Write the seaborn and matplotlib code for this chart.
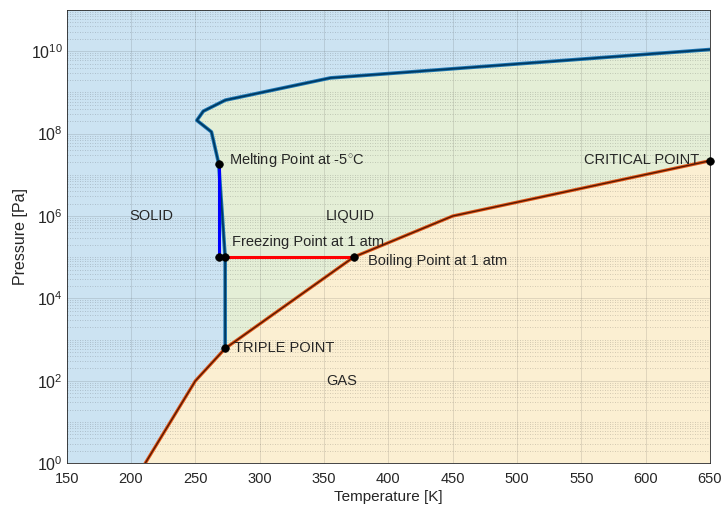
import matplotlib
matplotlib.use("Agg")
import numpy as np
import pandas as pd
import seaborn as sns
import matplotlib.pyplot as plt
from matplotlib.ticker import LogLocator, FixedLocator, NullFormatter, FuncFormatter

# ---------------- data ----------------
# sublimation curve (solid / gas)
sub_T = [211.0, 250.0, 273.16]
sub_P = [1.0, 100.0, 611.657]
# vaporisation curve (liquid / gas), triple point -> critical point
vap_T = [273.16, 373.15, 450.0, 650.0]
vap_P = [611.657, 101325.0, 1.0e6, 2.2e7]
# melting curve (solid / liquid), triple point -> high pressure ices
melt_T = [273.16, 273.15, 268.15, 262.5, 251.165, 256.164, 273.31, 355.0, 650.0]
melt_P = [611.657, 101325.0, 1.87e7, 1.1e8, 2.1e8, 3.5e8, 6.5e8, 2.25e9, 1.1e10]
# special points
melt5_T, melt5_P = 268.15, 1.87e7
atm_P = 101325.0
freeze_T = [268.15, 273.15]
boil_T = 373.15
triple_T, triple_P = 273.16, 611.657
crit_T, crit_P = 650.0, 2.2e7

x_ticks = [150, 200, 250, 300, 350, 400, 450, 500, 550, 600, 650]
y_ticks = [1e0, 1e2, 1e4, 1e6, 1e8, 1e10]

# ---------------- style ----------------
sns.set_theme(style="white")
plt.rcParams["font.family"] = ["Liberation Sans", "DejaVu Sans"]
plt.rcParams["mathtext.fontset"] = "custom"
plt.rcParams["mathtext.rm"] = "Liberation Sans"
plt.rcParams["mathtext.it"] = "Liberation Sans:italic"
plt.rcParams["mathtext.bf"] = "Liberation Sans:bold"

TXT = "#262626"
C_SOLID = "#cce3f2"
C_LIQ = "#e4eed6"
C_GAS = "#fbefd2"

fig, ax = plt.subplots(figsize=(7.26, 5.08), dpi=100)
fig.subplots_adjust(left=66.7 / 726, right=710 / 726, top=1 - 10 / 508, bottom=1 - 463.3 / 508)

ax.set_yscale("log")
ax.set_xlim(150, 650)
ax.set_ylim(1, 1e11)
ax.set_facecolor(C_SOLID)

# regions
liq_x = melt_T + [crit_T] + vap_T[::-1]
liq_y = melt_P + [crit_P] + vap_P[::-1]
ax.fill(liq_x, liq_y, color=C_LIQ, lw=0, zorder=0.2)
gas_x = sub_T + vap_T[1:] + [crit_T, sub_T[0]]
gas_y = sub_P + vap_P[1:] + [1.0, 1.0]
ax.fill(gas_x, gas_y, color=C_GAS, lw=0, zorder=0.2)

# boundaries
df_sub = pd.DataFrame({"T": sub_T + vap_T[1:], "P": sub_P + vap_P[1:]})
sns.lineplot(data=df_sub, x="T", y="P", sort=False, estimator=None, color="#e0581a",
             lw=2.4, ax=ax, zorder=3)
sns.lineplot(data=df_sub, x="T", y="P", sort=False, estimator=None, color="#5a1800",
             lw=1.0, ax=ax, zorder=3.1)
df_melt = pd.DataFrame({"T": melt_T, "P": melt_P})
sns.lineplot(data=df_melt, x="T", y="P", sort=False, estimator=None, color="#1f78b4",
             lw=2.6, ax=ax, zorder=3)
sns.lineplot(data=df_melt, x="T", y="P", sort=False, estimator=None, color="#003a63",
             lw=1.3, ax=ax, zorder=3.1)

df_blue = pd.DataFrame({"T": [melt5_T, melt5_T], "P": [atm_P, melt5_P]})
sns.lineplot(data=df_blue, x="T", y="P", sort=False, estimator=None, color="#0000ff",
             lw=2.2, ax=ax, zorder=4)
df_red = pd.DataFrame({"T": [freeze_T[1], boil_T], "P": [atm_P, atm_P]})
sns.lineplot(data=df_red, x="T", y="P", sort=False, estimator=None, color="#ff0000",
             lw=2.2, ax=ax, zorder=4)

pts = pd.DataFrame({"T": [melt5_T, freeze_T[0], freeze_T[1], boil_T, triple_T, crit_T],
                    "P": [melt5_P, atm_P, atm_P, atm_P, triple_P, crit_P]})
sns.scatterplot(data=pts, x="T", y="P", color="black", s=30, edgecolor="black",
                linewidth=0.5, ax=ax, zorder=6, clip_on=False)

# labels
fs = 10.5
ax.text(276.0, 2.3e7, "Melting Point at -5$^{\\circ}$C", fontsize=fs, color=TXT, va="center", ha="left")
ax.text(278.3, 2.4e5, "Freezing Point at 1 atm", fontsize=fs, color=TXT, va="center", ha="left")
ax.text(384.0, 8.3e4, "Boiling Point at 1 atm", fontsize=fs, color=TXT, va="center", ha="left")
ax.text(280.0, triple_P, "TRIPLE POINT", fontsize=fs, color=TXT, va="center", ha="left")
ax.text(642.0, 2.3e7, "CRITICAL POINT", fontsize=fs, color=TXT, va="center", ha="right")
ax.text(216.0, 1e6, "SOLID", fontsize=fs, color=TXT, va="center", ha="center")
ax.text(370.0, 1e6, "LIQUID", fontsize=fs, color=TXT, va="center", ha="center")
ax.text(363.8, 100, "GAS", fontsize=fs, color=TXT, va="center", ha="center")

# axes
ax.xaxis.set_major_locator(FixedLocator(x_ticks))
ax.yaxis.set_major_locator(FixedLocator(y_ticks))
ax.yaxis.set_minor_locator(LogLocator(base=10, subs=np.arange(1, 10), numticks=50))
ax.yaxis.set_minor_formatter(NullFormatter())
ax.yaxis.set_major_formatter(FuncFormatter(lambda v, p: "$\\mathdefault{10^{%d}}$" % int(round(np.log10(v)))))

ax.set_axisbelow(True)
ax.grid(True, which="major", color=TXT, alpha=0.15, lw=0.6, ls="-")
ax.yaxis.grid(True, which="minor", color=TXT, alpha=0.25, lw=0.6, ls=(0, (1, 2)))

ax.tick_params(which="major", direction="in", length=4, width=0.6, colors=TXT)
ax.tick_params(axis="x", which="major", labelsize=10.5, pad=6)
ax.tick_params(axis="y", which="major", labelsize=11.5, pad=3)
ax.tick_params(which="minor", direction="in", length=2.2, width=0.5, colors=TXT)
for s in ax.spines.values():
    s.set_color(TXT)
    s.set_linewidth(0.6)
    s.set_visible(True)

ax.set_xlabel("Temperature [K]", fontsize=11, color=TXT, labelpad=3)
ax.set_ylabel("Pressure [Pa]", fontsize=11.5, color=TXT, labelpad=2)

fig.savefig("out.png", dpi=100)
